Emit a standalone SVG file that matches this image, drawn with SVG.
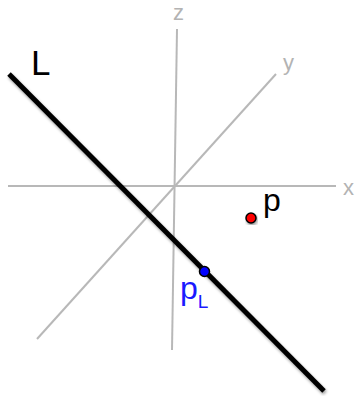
<svg xmlns="http://www.w3.org/2000/svg" width="362" height="396" viewBox="0 0 362 396">
<defs>
<style>
.axis{stroke:#b8b8b8;stroke-width:2;fill:none}
.alab{font-family:"Liberation Sans",Arial,sans-serif;font-size:22px;fill:#b3b3b3}
.lab{font-family:"Liberation Sans",Arial,sans-serif;fill:#000}
</style>
<filter id="sh" x="-20%" y="-20%" width="140%" height="140%">
<feGaussianBlur in="SourceAlpha" stdDeviation="1.5"/>
<feOffset dx="1" dy="2" result="b"/>
<feComponentTransfer><feFuncA type="linear" slope="0.4"/></feComponentTransfer>
<feMerge><feMergeNode/><feMergeNode in="SourceGraphic"/></feMerge>
</filter>
</defs>
<rect width="362" height="396" fill="#fff"/>
<g id="axes">
<line class="axis" x1="8" y1="186" x2="336" y2="186"/>
<line class="axis" x1="177" y1="29" x2="172" y2="350"/>
<line class="axis" x1="276" y1="74" x2="37" y2="339"/>
<text class="alab" x="343" y="195">x</text>
<text class="alab" x="283" y="70">y</text>
<text class="alab" x="173" y="20">z</text>
</g>
<g id="connectors">
<line id="L" x1="9" y1="74" x2="324" y2="391" stroke="#000" stroke-width="5" filter="url(#sh)"/>
</g>
<g id="label-L"><text class="lab" x="31" y="75" font-size="35">L</text></g>
<g id="node-p">
<circle cx="251" cy="218" r="5" fill="#f00" stroke="#000" stroke-width="1.5" filter="url(#sh)"/>
<text class="lab" x="263" y="211" font-size="32">p</text>
</g>
<g id="node-pL">
<circle cx="204.5" cy="271.5" r="5" fill="#00f" stroke="#000" stroke-width="1.5"/>
<text x="180" y="299" font-family="'Liberation Sans',Arial,sans-serif" font-size="32" fill="#1a1aff">p<tspan font-size="19" dy="9">L</tspan></text>
</g>
</svg>
